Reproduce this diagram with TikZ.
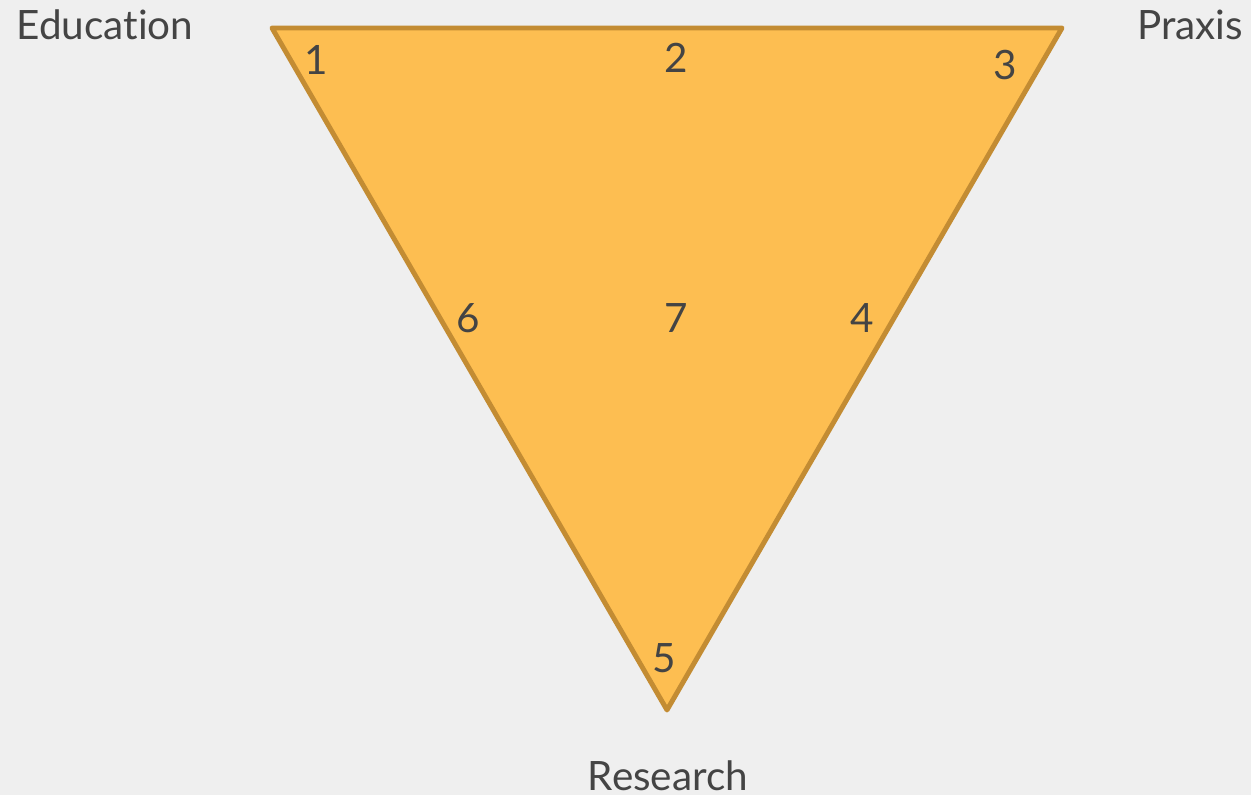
\documentclass[tikz,border=0pt]{standalone}
\usepackage{fontspec}
\setmainfont{Lato}[Ligatures=NoCommon]
\definecolor{nen}{HTML}{EFEFEF}
\definecolor{cam}{HTML}{FDBE51}
\definecolor{vien}{HTML}{C38C33}
\definecolor{chu}{HTML}{444444}
\tikzset{
	nhan/.style={text=chu, font=\fontsize{11.5}{12}\selectfont, inner sep=0pt},
	so/.style={text=chu, font=\fontsize{11.5}{12}\selectfont, inner sep=0pt}
}
\begin{document}
\begin{tikzpicture}[x=0.01cm, y=-0.01cm]
	
	% --- NỀN ---
	\fill[nen] (0,0) rectangle (1251,795);
	\useasboundingbox (0,0) rectangle (1251,795);
	
	% --- TAM GIÁC ---
	\coordinate (A) at (272,28);
	\coordinate (B) at (1062,28);
	\coordinate (C) at (667,710);
	\filldraw[fill=cam, draw=vien, line width=1.4pt, line join=round] (A) -- (B) -- (C) -- cycle;
	
	% Các đỉnh
	\node[nhan] (edu) at (105,25) {Education};
	\node[nhan] (pra) at (1190,25) {Praxis};
	\node[nhan] (res) at (668,776) {Research};
	
	% Các số bên trong
	\node[so] (s1) at (316,60) {1};
	\node[so] (s2) at (676,58) {2};
	\node[so] (s3) at (1005,65) {3};
	\node[so] (s4) at (862,318) {4};
	\node[so] (s5) at (664,658) {5};
	\node[so] (s6) at (468,318) {6};
	\node[so] (s7) at (676,318) {7};
	
\end{tikzpicture}
\end{document}
